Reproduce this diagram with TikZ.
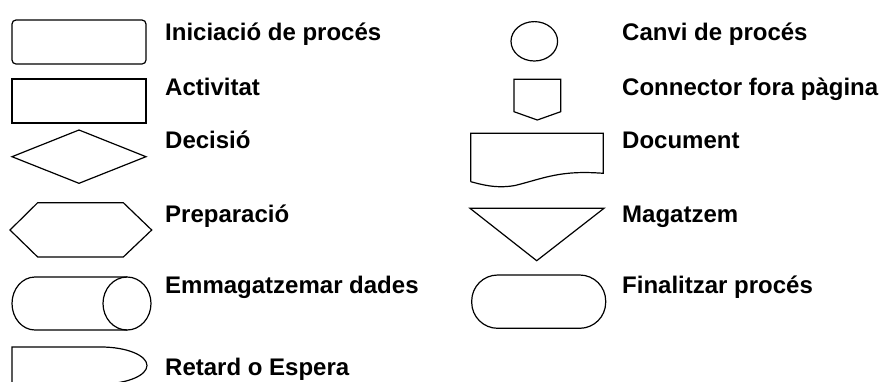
\documentclass[tikz,border=0pt]{standalone}
\usepackage{fontspec}
\setmainfont{Liberation Sans}
\begin{document}
\begin{tikzpicture}[x=1pt,y=-1pt,
  shp/.style={draw=black,line width=1.2pt,line join=miter},
  lbl/.style={anchor=base west,inner sep=0pt,font=\fontsize{24}{27}\selectfont\bfseries}]
\useasboundingbox (0,0) rectangle (880,381);
\fill[white] (0,0) rectangle (880,381);
% left column
\draw[shp,rounded corners=4pt] (12,20) rectangle (146,64);
\node[lbl] (t1) at (165,40) {Iniciació de procés};
\draw[shp] (12,79) rectangle (146,123);
\node[lbl] (t2) at (165,95) {Activitat};
\draw[shp] (12,156.7) -- (79,130) -- (146,156.7) -- (79,183.3) -- cycle;
\node[lbl] (t3) at (165,148) {Decisió};
\draw[shp] (10,230) -- (37.7,202.7) -- (123.3,202.7) -- (151.7,230) -- (123.3,257) -- (37.7,257) -- cycle;
\node[lbl] (t4) at (165,222) {Preparació};
\draw[shp] (127,277) -- (35,277) arc[start angle=270,end angle=90,x radius=23,y radius=26.5] -- (127,330);
\draw[shp] (127,303.5) ellipse[x radius=24,y radius=26.5];
\node[lbl] (t5) at (165,293) {Emmagatzemar dades};
\draw[shp] (12,395) -- (12,347) -- (101,347) arc[start angle=270,end angle=450,x radius=46,y radius=18.5] -- (12,384);
\node[lbl] (t6) at (165,375) {Retard o Espera};
% right column
\draw[shp] (534.3,41.3) ellipse[x radius=23.3,y radius=19.7];
\node[lbl] (t7) at (622,40) {Canvi de procés};
\draw[shp] (514,79.3) -- (560.7,79.3) -- (560.7,111.7) -- (537.3,120) -- (514,111.7) -- cycle;
\node[lbl] (t8) at (622,95) {Connector fora pàgina};
\draw[shp] (470.7,181.7) -- (470.7,133.3) -- (603.3,133.3) -- (603.3,173.3)
  .. controls (560,170) and (545,178) .. (515,185.5)
  .. controls (495,189) and (480,184) .. (470.7,181.7);
\node[lbl] (t9) at (622,148) {Document};
\draw[shp] (470,208.3) -- (604,208.3) -- (536.7,260.7) -- cycle;
\node[lbl] (t10) at (622,222) {Magatzem};
\draw[shp,rounded corners=26pt] (471.7,275) rectangle (605.7,328.3);
\node[lbl] (t11) at (622,293) {Finalitzar procés};
\end{tikzpicture}
\end{document}
